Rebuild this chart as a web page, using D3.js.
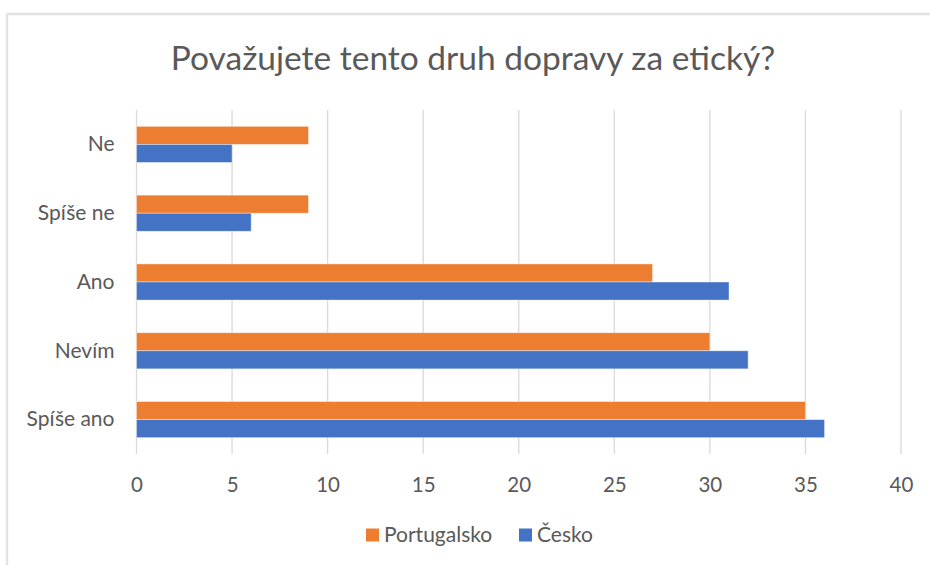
<!DOCTYPE html>
<html>
<head>
<meta charset="utf-8">
<script src="https://cdn.jsdelivr.net/npm/d3@7"></script>
<style>
  body { margin: 0; background: #fff; }
  svg { font-family: Lato, "Open Sans", sans-serif; }
</style>
</head>
<body>
<svg id="Vis" width="930" height="565"></svg>
<script>
const categories = ["Ne", "Spíše ne", "Ano", "Nevím", "Spíše ano"];
const seriesNames = ["Portugalsko", "Česko"];
const portugalsko = [9, 9, 27, 30, 35];
const cesko = [5, 6, 31, 32, 36];
const xTicks = [0, 5, 10, 15, 20, 25, 30, 35, 40];
const colors = ["#ED7D31", "#4472C4"];

const margin = { top: 110, bottom: 111, left: 136.5, right: 29 };

const svg = d3.select("svg#Vis");
const width = +svg.attr("width");
const height = +svg.attr("height");
const plotWidth = width - margin.left - margin.right;
const plotHeight = height - margin.top - margin.bottom;

// frame (only top and left edges show in the picture)
svg.append("path")
  .attr("d", "M7,565 L7,14 L930,14")
  .attr("fill", "none")
  .attr("stroke", "#e3e3e3")
  .attr("stroke-width", 2.5);

svg.append("text")
  .attr("x", 473)
  .attr("y", 70)
  .attr("text-anchor", "middle")
  .attr("fill", "#595959")
  .style("font-size", "33.5px")
  .text("Považujete tento druh dopravy za etický?");

const plot = svg.append("g")
  .attr("transform", "translate(" + margin.left + "," + margin.top + ")");

const xScale = d3.scaleLinear().domain([0, 40]).range([0, plotWidth]);
const yScale = d3.scaleBand().domain(categories).range([0, plotHeight])
  .paddingInner(0.475).paddingOuter(0.2375);
const subScale = d3.scaleBand().domain(seriesNames).range([0, yScale.bandwidth()]);

// gridlines
plot.append("g")
  .selectAll("line")
  .data(xTicks)
  .join("line")
    .attr("x1", d => xScale(d))
    .attr("x2", d => xScale(d))
    .attr("y1", 0)
    .attr("y2", plotHeight)
    .attr("stroke", "#d9d9d9")
    .attr("stroke-width", 1.3);

// x axis labels
const xAxis = d3.axisBottom(xScale).tickValues(xTicks).tickSize(0).tickPadding(23);
const xGroup = plot.append("g")
  .attr("transform", "translate(0," + plotHeight + ")")
  .call(xAxis);
xGroup.select(".domain").remove();
xGroup.selectAll("text")
  .attr("fill", "#595959")
  .style("font-size", "20.5px")
  .style("font-family", "Lato, 'Open Sans', sans-serif");

// y axis labels
const yAxis = d3.axisLeft(yScale).tickSize(0).tickPadding(22);
const yGroup = plot.append("g").call(yAxis);
yGroup.select(".domain").remove();
yGroup.selectAll("text")
  .attr("fill", "#595959")
  .style("font-size", "21px")
  .style("font-family", "Lato, 'Open Sans', sans-serif");

// bars
const rows = categories.map((c, i) => ({
  category: c,
  values: [
    { name: seriesNames[0], value: portugalsko[i] },
    { name: seriesNames[1], value: cesko[i] }
  ]
}));

const groups = plot.append("g")
  .selectAll("g")
  .data(rows)
  .join("g")
    .attr("transform", d => "translate(0," + yScale(d.category) + ")");

groups.selectAll("rect")
  .data(d => d.values)
  .join("rect")
    .attr("x", xScale(0))
    .attr("y", d => subScale(d.name))
    .attr("width", d => xScale(d.value) - xScale(0))
    .attr("height", subScale.bandwidth())
    .attr("fill", (d, i) => colors[i])
    .attr("stroke", "#ffffff")
    .attr("stroke-opacity", 0.5)
    .attr("stroke-width", 0.8);

// legend
const legend = svg.append("g").attr("transform", "translate(366,535)");
const legendX = [0, 153];
const items = legend.selectAll("g")
  .data(seriesNames)
  .join("g")
    .attr("transform", (d, i) => "translate(" + legendX[i] + ",0)");
items.append("rect")
  .attr("x", 0).attr("y", -6.5)
  .attr("width", 13).attr("height", 13)
  .attr("fill", (d, i) => colors[i]);
items.append("text")
  .attr("x", 18)
  .attr("dy", "0.35em")
  .attr("fill", "#595959")
  .style("font-size", "21px")
  .text(d => d);
</script>
</body>
</html>
